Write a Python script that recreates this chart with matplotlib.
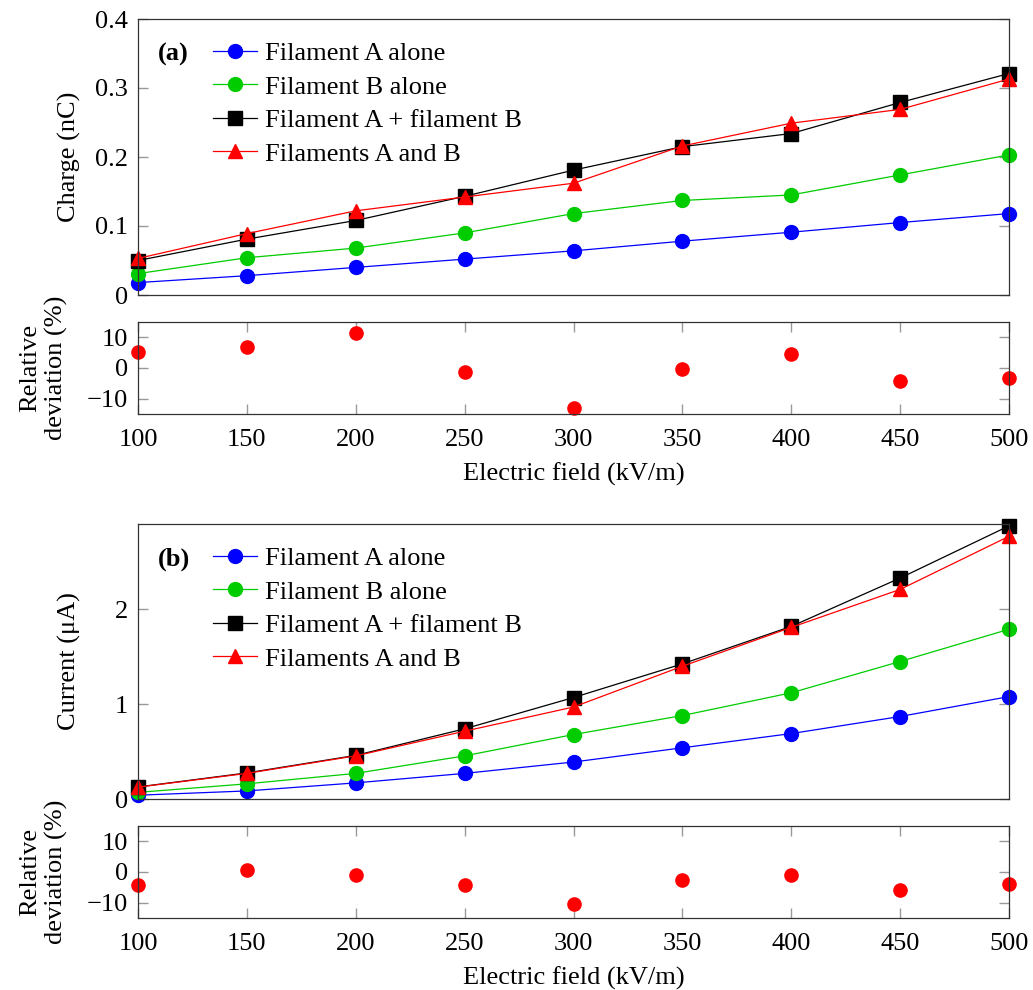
import matplotlib.pyplot as plt

plt.rcParams['font.family'] = ['Liberation Serif', 'DejaVu Serif']
plt.rcParams['mathtext.fontset'] = 'stix'

# Electric field values (kV/m)
field = [100, 150, 200, 250, 300, 350, 400, 450, 500]

# (a) charge (nC)
charge_a = [0.018, 0.028, 0.040, 0.052, 0.064, 0.078, 0.091, 0.105, 0.118]
charge_b = [0.031, 0.054, 0.068, 0.090, 0.118, 0.137, 0.145, 0.174, 0.203]
charge_sum = [0.050, 0.081, 0.108, 0.143, 0.181, 0.215, 0.234, 0.279, 0.321]
charge_both = [0.053, 0.089, 0.122, 0.142, 0.162, 0.216, 0.249, 0.269, 0.313]
charge_dev = [5.2, 6.7, 11.3, -1.2, -13.1, -0.4, 4.6, -4.2, -3.1]

# (b) current (uA)
current_a = [0.04, 0.085, 0.17, 0.27, 0.39, 0.54, 0.69, 0.87, 1.08]
current_b = [0.07, 0.16, 0.27, 0.455, 0.68, 0.88, 1.12, 1.45, 1.79]
current_sum = [0.127, 0.275, 0.46, 0.74, 1.07, 1.425, 1.82, 2.33, 2.88]
current_both = [0.125, 0.27, 0.455, 0.715, 0.97, 1.40, 1.81, 2.21, 2.77]
current_dev = [-4.4, 0.5, -1.1, -4.2, -10.4, -2.7, -1.0, -5.9, -4.0]

labels = ['Filament A alone', 'Filament B alone',
          'Filament A + filament B', 'Filaments A and B']

FS = 19
W, H = 1033, 990
fig = plt.figure(figsize=(W / 100, H / 100), dpi=100)


def box(l, t, r, b):
    return [l / W, 1 - b / H, (r - l) / W, (b - t) / H]


def style(ax, xticks):
    for s in ax.spines.values():
        s.set_color('#333333')
        s.set_linewidth(0.9)
    ax.tick_params(direction='in', length=7, width=1, color='#999999',
                   labelsize=FS, left=True, right=True,
                   top=xticks, bottom=xticks)
    ax.tick_params(axis='y', pad=7)
    ax.tick_params(axis='x', pad=11)
    ax.set_xlim(100, 500)


def main_panel(rect, series, ylim, yticks, yticklabels, ylabel, tag):
    ax = fig.add_axes(rect)
    a, b, s, both = series
    ax.plot(field, a, '-o', color='blue', lw=0.9, ms=10, label=labels[0])
    ax.plot(field, b, '-o', color='#00cc00', lw=0.9, ms=10, label=labels[1])
    ax.plot(field, s, '-s', color='black', lw=0.9, ms=9.5, label=labels[2])
    ax.plot(field, both, '-^', color='red', lw=0.9, ms=10, label=labels[3])
    for ln in ax.lines:
        ln.set_clip_on(False)
    style(ax, False)
    ax.set_ylim(*ylim)
    ax.set_yticks(yticks)
    ax.set_yticklabels(yticklabels)
    ax.set_xticks(field)
    ax.set_xticklabels([])
    ax.set_ylabel(ylabel, fontsize=FS)
    ax.yaxis.set_label_coords(-0.066, 0.5)
    ax.text(0.023, 0.873, tag, transform=ax.transAxes, fontsize=FS,
            fontweight='bold', va='center', ha='left')
    ax.legend(loc='upper left', bbox_to_anchor=(0.086, 0.918), frameon=False,
              fontsize=FS, handlelength=1.67, handletextpad=0.3,
              labelspacing=0.38, borderpad=0, borderaxespad=0)
    return ax


def dev_panel(rect, dev):
    ax = fig.add_axes(rect)
    ax.plot(field, dev, 'o', color='red', ms=9.5, clip_on=False)
    style(ax, True)
    ax.set_ylim(-15, 15)
    ax.set_yticks([-10, 0, 10])
    ax.set_yticklabels(['\u221210', '0', '10'])
    ax.set_xticks(field)
    ax.set_xticklabels([str(v) for v in field])
    ax.set_xlabel('Electric field (kV/m)', fontsize=FS, labelpad=8)
    ax.set_ylabel('Relative\ndeviation (%)', fontsize=FS, linespacing=1.25)
    ax.yaxis.set_label_coords(-0.080, 0.5)
    return ax


main_panel(box(138, 19, 1009, 295),
           (charge_a, charge_b, charge_sum, charge_both),
           (0, 0.4), [0, 0.1, 0.2, 0.3, 0.4],
           ['0', '0.1', '0.2', '0.3', '0.4'], 'Charge (nC)', '(a)')
dev_panel(box(138, 322, 1009, 414), charge_dev)

main_panel(box(138, 524, 1009, 799),
           (current_a, current_b, current_sum, current_both),
           (0, 2.9), [0, 1, 2], ['0', '1', '2'],
           'Current (\u03bcA)', '(b)')
dev_panel(box(138, 826, 1009, 918), current_dev)

fig.savefig('out.png', dpi=100)
